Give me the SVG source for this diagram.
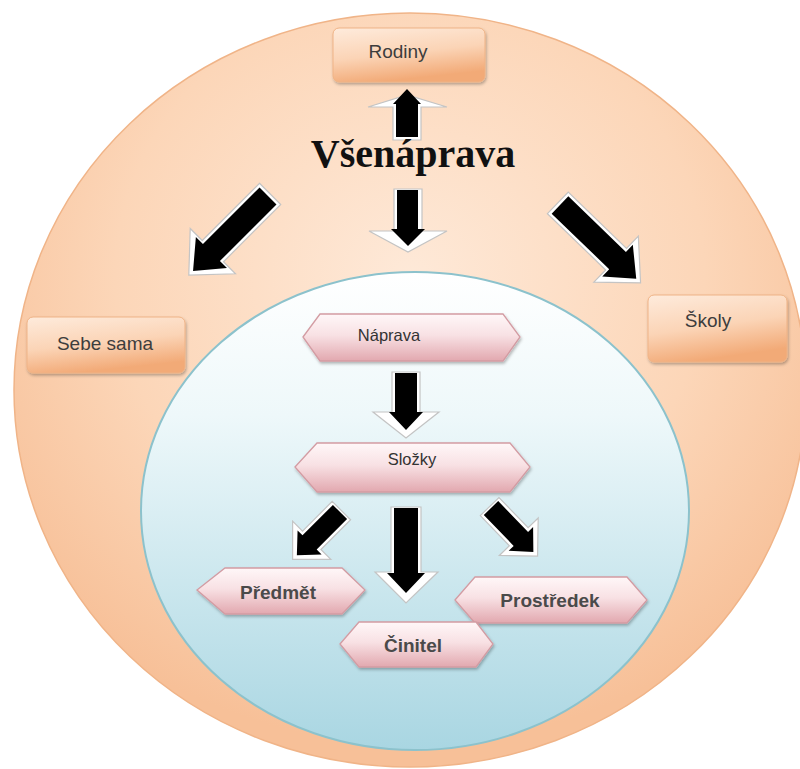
<svg xmlns="http://www.w3.org/2000/svg" xmlns:xlink="http://www.w3.org/1999/xlink" width="800" height="769" viewBox="0 0 800 769">
  <style>
    .box { fill: url(#boxGrad); stroke: #efb386; stroke-width: 1; filter: url(#shadow); }
    .hex { fill: url(#hexGrad); stroke: #d39ca3; stroke-width: 1.3; filter: url(#shadow); }
    .lbl { font-family: "Liberation Sans", Arial, sans-serif; font-size: 19px; fill: #3d3d3d; text-anchor: middle; }
    .lsm { font-family: "Liberation Sans", Arial, sans-serif; font-size: 16.5px; fill: #333333; text-anchor: middle; }
    .lbd { font-family: "Liberation Sans", Arial, sans-serif; font-size: 19px; font-weight: bold; fill: #4a4a4a; text-anchor: middle; }
    .title { font-family: "Liberation Serif", "Times New Roman", serif; font-size: 40px; font-weight: bold; fill: #111111; text-anchor: middle; }
    .aw { fill: #ffffff; stroke: #c4c4c4; stroke-width: 1.2; stroke-linejoin: miter; }
    .ab { fill: #000000; }
  </style>
  <defs>
    <radialGradient id="outerGrad" cx="50%" cy="35%" r="62%">
      <stop offset="0" stop-color="#fee9d8"/>
      <stop offset="0.6" stop-color="#fcd6b8"/>
      <stop offset="1" stop-color="#f7c098"/>
    </radialGradient>
    <linearGradient id="innerGrad" x1="0" y1="0" x2="0" y2="1">
      <stop offset="0" stop-color="#ffffff"/>
      <stop offset="0.3" stop-color="#eef8fa"/>
      <stop offset="1" stop-color="#a9d6e2"/>
    </linearGradient>
    <linearGradient id="boxGrad" x1="0" y1="0" x2="0.3" y2="1">
      <stop offset="0" stop-color="#feebdc"/>
      <stop offset="0.55" stop-color="#fbd4b6"/>
      <stop offset="1" stop-color="#f2aa77"/>
    </linearGradient>
    <linearGradient id="hexGrad" x1="0" y1="0" x2="0" y2="1">
      <stop offset="0" stop-color="#fff7f8"/>
      <stop offset="0.45" stop-color="#f8e1e4"/>
      <stop offset="1" stop-color="#e2a8af"/>
    </linearGradient>
    <filter id="shadow" x="-10%" y="-20%" width="120%" height="150%">
      <feDropShadow dx="1" dy="2" stdDeviation="1.5" flood-color="#000000" flood-opacity="0.28"/>
    </filter>
    <polygon id="bigW" class="aw" points="-15,-3 15,-3 15,78 32,78 0,112 -32,78 -15,78"/>
    <polygon id="bigB" class="ab" points="-12,0 12,0 12,80 22,80 0,106 -22,80 -12,80"/>
    <polygon id="smW" class="aw" points="-13,-2 13,-2 13,40 27,40 0,67 -27,40 -13,40"/>
    <polygon id="smB" class="ab" points="-10,0 10,0 10,43 17,43 0,61 -17,43 -10,43"/>
  </defs>

  <g id="background">
    <ellipse cx="410" cy="390" rx="396" ry="377" fill="url(#outerGrad)" stroke="#f0b488" stroke-width="1.5"/>
    <ellipse cx="415" cy="511" rx="274" ry="239" fill="url(#innerGrad)" stroke="#8cc2cc" stroke-width="2"/>
  </g>

  <g id="connectors">
    <!-- Všenáprava -> Rodiny -->
    <polygon class="aw" points="393,140 393,107 368,107 407,95 447,107 421,107 421,140"/>
    <polygon class="ab" points="396,137 396,104 393,104 407,89 421,104 418,104 418,137"/>
    <!-- Všenáprava -> inner circle -->
    <polygon class="aw" points="394,189 422,189 422,231 447,231 408,252 369,231 394,231"/>
    <polygon class="ab" points="397,190 418,190 418,229 425,229 408,246 391,229 397,229"/>
    <!-- Všenáprava -> Sebe sama -->
    <use xlink:href="#bigW" transform="translate(268,196) rotate(45)"/>
    <use xlink:href="#bigB" transform="translate(268,196) rotate(45)"/>
    <!-- Všenáprava -> Školy -->
    <use xlink:href="#bigW" transform="translate(560,205) rotate(-46)"/>
    <use xlink:href="#bigB" transform="translate(560,205) rotate(-46)"/>
    <!-- Náprava -> Složky -->
    <polygon class="aw" points="392,372 420,372 420,412 439,412 406,438 373,412 392,412"/>
    <polygon class="ab" points="395,373 417,373 417,412 423,412 406,430 389,412 395,412"/>
    <!-- Složky -> Předmět -->
    <use xlink:href="#smW" transform="translate(340,512) rotate(45)"/>
    <use xlink:href="#smB" transform="translate(340,512) rotate(45)"/>
    <!-- Složky -> Činitel -->
    <polygon class="aw" points="391,507 421,507 421,572 438,572 406,603 375,572 391,572"/>
    <polygon class="ab" points="394,508 418,508 418,573 425,573 406,593 387,573 394,573"/>
    <!-- Složky -> Prostředek -->
    <use xlink:href="#smW" transform="translate(491,508) rotate(-44)"/>
    <use xlink:href="#smB" transform="translate(491,508) rotate(-44)"/>
  </g>

  <g id="node-vsenaprava">
    <text class="title" x="413" y="167">Všenáprava</text>
  </g>

  <g id="node-rodiny">
    <rect class="box" x="333" y="28" width="152" height="54" rx="6"/>
    <text class="lbl" x="398" y="58">Rodiny</text>
  </g>

  <g id="node-sebe-sama">
    <rect class="box" x="27" y="317" width="158" height="56" rx="6"/>
    <text class="lbl" x="105" y="350">Sebe sama</text>
  </g>

  <g id="node-skoly">
    <rect class="box" x="648" y="295" width="139" height="67" rx="6"/>
    <text class="lbl" x="708" y="327">Školy</text>
  </g>

  <g id="node-naprava">
    <polygon class="hex" points="303,337 320,314 503,314 520,337 503,361 320,361"/>
    <text class="lsm" x="389" y="341">Náprava</text>
  </g>

  <g id="node-slozky">
    <polygon class="hex" points="295,467 317,443 510,443 530,467 510,492 317,492"/>
    <text class="lsm" x="412" y="465">Složky</text>
  </g>

  <g id="node-predmet">
    <polygon class="hex" points="197,590 225,568 342,568 365,590 342,614 225,614"/>
    <text class="lbd" x="278" y="599">Předmět</text>
  </g>

  <g id="node-prostredek">
    <polygon class="hex" points="455,600 475,577 627,577 647,600 627,623 475,623"/>
    <text class="lbd" x="550" y="607">Prostředek</text>
  </g>

  <g id="node-cinitel">
    <polygon class="hex" points="340,644 359,622 476,622 493,644 476,667 359,667"/>
    <text class="lbd" x="413" y="652">Činitel</text>
  </g>
</svg>
